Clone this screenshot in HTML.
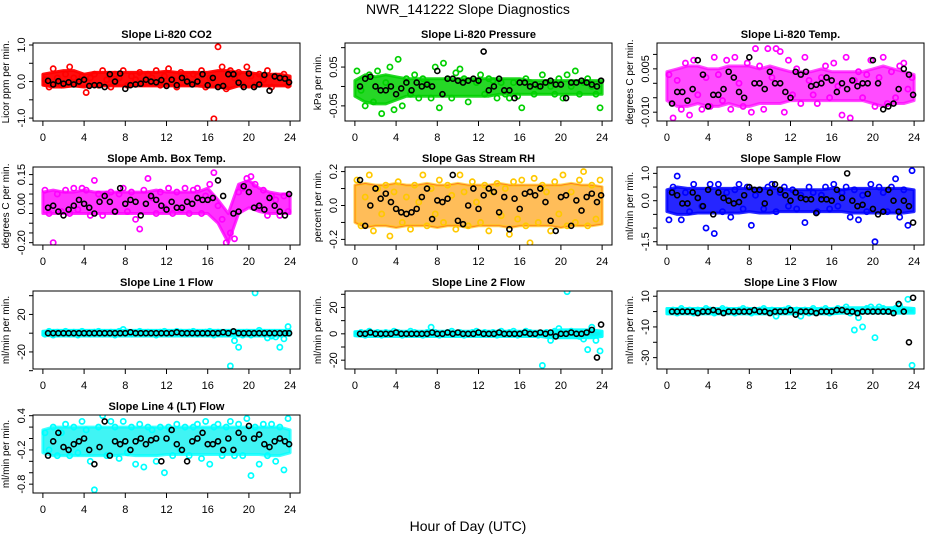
<!DOCTYPE html>
<html><head><meta charset="utf-8"><style>
html,body{margin:0;padding:0;background:#fff;}
svg{display:block;font-family:"Liberation Sans",sans-serif;}
</style></head><body>
<svg id="chart" width="936" height="540" viewBox="0 0 936 540" xmlns="http://www.w3.org/2000/svg">
<text x="468" y="14" text-anchor="middle" font-size="14">NWR_141222  Slope Diagnostics</text>
<text x="468" y="531" text-anchor="middle" font-size="14">Hour of Day (UTC)</text>
</svg>
<script>
const xTicks=[0,4,8,12,16,20,24];
const bandHours=[0,1,2,3,4,5,6,7,8,9,10,11,12,13,14,15,16,17,18,19,20,21,22,23,24];
const scatTimes=[0.2,0.6,1.0,1.4,1.8,2.2,2.6,3.0,3.4,3.8,4.2,4.6,5.0,5.4,5.8,6.2,6.6,7.0,7.4,7.8,8.2,8.6,9.0,9.4,9.8,10.2,10.6,11.0,11.4,11.8,12.2,12.6,13.0,13.4,13.8,14.2,14.6,15.0,15.4,15.8,16.2,16.6,17.0,17.4,17.8,18.2,18.6,19.0,19.4,19.8,20.2,20.6,21.0,21.4,21.8,22.2,22.6,23.0,23.4,23.8];
const blackTimes=[0.5,1,1.5,2,2.5,3,3.5,4,4.5,5,5.5,6,6.5,7,7.5,8,8.5,9,9.5,10,10.5,11,11.5,12,12.5,13,13.5,14,14.5,15,15.5,16,16.5,17,17.5,18,18.5,19,19.5,20,20.5,21,21.5,22,22.5,23,23.5,23.9];

const titles=["Slope Li-820 CO2","Slope Li-820 Pressure","Slope Li-820 Temp.","Slope Amb. Box Temp.","Slope Gas Stream RH","Slope Sample Flow","Slope Line 1 Flow","Slope Line 2 Flow","Slope Line 3 Flow","Slope Line 4 (LT) Flow"];
const yTitles=["Licor ppm per min.","kPa per min.","degrees C per min.","degrees C per min.","percent per min.","ml/min per min.","ml/min per min.","ml/min per min.","ml/min per min.","ml/min per min."];
const yDomains=[[-1.08,1.055],[-0.089,0.112],[-0.01305,0.01395],[-0.212,0.189],[-0.233,0.227],[-1.62,1.233],[-38.2,45],[-26.7,32.5],[-37.4,13.4],[-0.955,0.412]];
const yTickVals=[[-1,-0.5,0,0.5,1],[-0.05,0,0.05,0.1],[-0.01,-0.005,0,0.005,0.01],[-0.2,-0.15,-0.1,-0.05,0,0.05,0.1,0.15],[-0.2,-0.1,0,0.1,0.2],[-1.5,-1,-0.5,0,0.5,1],[-40,-20,0,20,40],[-20,-10,0,10,20,30],[-30,-20,-10,0,10],[-0.8,-0.6,-0.4,-0.2,0,0.2,0.4]];
const yTickLabels=[{"-1":"-1.0","0":"0.0","1":"1.0"},{"-0.05":"-0.05","0.05":"0.05"},{"-0.01":"-0.010","0.005":"0.005"},{"-0.2":"-0.20","0":"0.00","0.15":"0.15"},{"-0.2":"-0.2","0":"0.0","0.2":"0.2"},{"-1.5":"-1.5","0":"0.0","1":"1.0"},{"-20":"-20","20":"20"},{"-20":"-20","0":"0","20":"20"},{"-30":"-30","-10":"-10","10":"10"},{"-0.8":"-0.8","-0.2":"-0.2","0.4":"0.4"}];

const bandLo=[
[-0.1,-0.15,-0.15,-0.12,-0.15,-0.12,-0.12,-0.12,-0.12,-0.12,-0.12,-0.12,-0.12,-0.12,-0.12,-0.12,-0.15,-0.15,-0.2,-0.12,-0.15,-0.12,-0.12,-0.12,-0.12],
[-0.025,-0.04,-0.045,-0.045,-0.035,-0.025,-0.025,-0.025,-0.025,-0.025,-0.025,-0.025,-0.025,-0.025,-0.02,-0.02,-0.02,-0.02,-0.02,-0.02,-0.02,-0.02,-0.02,-0.02,-0.02],
[-0.006,-0.008,-0.008,-0.007,-0.008,-0.008,-0.007,-0.008,-0.008,-0.007,-0.007,-0.007,-0.006,-0.006,-0.006,-0.006,-0.006,-0.006,-0.006,-0.006,-0.007,-0.008,-0.007,-0.007,-0.006],
[-0.05,-0.05,-0.05,-0.05,-0.05,-0.05,-0.05,-0.05,-0.05,-0.05,-0.05,-0.05,-0.05,-0.05,-0.05,-0.05,-0.05,-0.1,-0.2,-0.05,-0.02,-0.04,-0.05,-0.05,-0.05],
[-0.1,-0.13,-0.12,-0.12,-0.13,-0.12,-0.12,-0.12,-0.13,-0.12,-0.12,-0.13,-0.12,-0.12,-0.12,-0.13,-0.12,-0.12,-0.12,-0.12,-0.13,-0.12,-0.12,-0.12,-0.11],
[-0.4,-0.5,-0.5,-0.45,-0.45,-0.45,-0.45,-0.45,-0.4,-0.45,-0.45,-0.4,-0.4,-0.4,-0.4,-0.4,-0.4,-0.4,-0.45,-0.45,-0.45,-0.45,-0.45,-0.45,-0.4],
[-2,-3,-3,-3,-3,-3,-3,-3,-3,-3,-3,-3,-3,-3,-3,-3,-3,-3,-3,-3,-3,-3,-3,-3,-2],
[-1.5,-2,-2,-2,-2,-2,-2,-2,-2,-2,-2,-2,-2,-2,-2,-2,-2,-2,-2,-3,-3,-3,-3,-3,-2],
[-1.5,-1.5,-1.5,-1.5,-1.5,-1.5,-1.5,-1.5,-1.5,-1.5,-1.5,-1.5,-1.5,-1.5,-1.5,-1.5,-1.5,-1,-1,-1,-1,-1,-1,-1,-1],
[-0.25,-0.3,-0.3,-0.3,-0.3,-0.3,-0.3,-0.3,-0.28,-0.3,-0.3,-0.3,-0.28,-0.28,-0.28,-0.28,-0.28,-0.28,-0.28,-0.28,-0.28,-0.28,-0.3,-0.3,-0.25]];
const bandHi=[
[0.2,0.25,0.3,0.3,0.2,0.25,0.25,0.25,0.25,0.25,0.25,0.25,0.28,0.25,0.25,0.25,0.25,0.3,0.3,0.25,0.25,0.2,0.2,0.2,0.15],
[0.015,0.03,0.025,0.03,0.025,0.02,0.02,0.02,0.02,0.02,0.02,0.02,0.02,0.02,0.02,0.02,0.02,0.015,0.015,0.015,0.015,0.015,0.015,0.015,0.015],
[0.004,0.005,0.006,0.006,0.005,0.005,0.006,0.006,0.006,0.005,0.006,0.005,0.004,0.004,0.004,0.005,0.004,0.004,0.004,0.004,0.005,0.006,0.005,0.004,0.003],
[0.06,0.07,0.06,0.06,0.07,0.06,0.06,0.06,0.06,0.06,0.06,0.07,0.06,0.06,0.06,0.06,0.08,0.02,-0.05,0.1,0.12,0.08,0.06,0.05,0.05],
[0.12,0.13,0.12,0.12,0.13,0.12,0.12,0.13,0.12,0.12,0.13,0.12,0.12,0.12,0.13,0.12,0.12,0.12,0.12,0.12,0.12,0.13,0.12,0.12,0.11],
[0.4,0.5,0.45,0.45,0.45,0.45,0.45,0.45,0.45,0.45,0.45,0.45,0.4,0.4,0.4,0.4,0.45,0.4,0.45,0.45,0.45,0.45,0.45,0.45,0.4],
[2,3,3,3,3,3,3,3,3,3,3,3,3,3,3,3,3,3,3,3,3,3,3,3,3],
[1.5,2,2,2,2,2,2,2,2,2,2,2,2,2,2,2,2,2,2,2,3,3,3,3,2],
[2,2,2,2,2,2,2,2,2,2,2,2,2,2,2,2,2,2.5,2.5,2.5,2.5,2.5,2.5,2.5,2],
[0.15,0.2,0.2,0.2,0.2,0.2,0.2,0.2,0.2,0.2,0.2,0.2,0.2,0.2,0.2,0.2,0.2,0.2,0.2,0.2,0.2,0.2,0.2,0.2,0.15]];
const scatVals=[
[0.05,-0.15,0.35,0.1,-0.1,0.2,0.4,0.1,-0.05,0.15,-0.3,0.1,0.2,-0.1,0.3,0.05,-0.15,0.2,0.1,0.3,-0.1,0.15,0.05,0.25,-0.05,0.2,0.1,0.3,-0.1,0.15,0.35,0.05,-0.15,0.25,0.1,-0.05,0.2,0.15,0.3,-0.15,0.1,-1.02,0.95,0.4,-0.2,0.3,0.1,0.25,-0.1,0.4,0.15,-0.1,0.2,0.05,0.3,-0.15,0.15,0.1,0.2,-0.1],
[0.04,-0.01,-0.05,0.03,-0.04,0.04,-0.07,0.01,0.05,-0.06,0.07,-0.05,0.02,-0.02,0.03,-0.03,0.02,0.01,-0.03,0.05,-0.055,0.06,0.02,-0.03,0.035,0.045,0.02,-0.04,-0.1,0.01,0.03,-0.02,0.02,0.015,-0.03,0.01,-0.02,-0.03,0.01,-0.025,-0.055,0.02,0.01,-0.02,0.0,0.03,0.01,0.0,-0.02,0.02,-0.03,0.03,0.0,0.04,-0.02,0.01,0.02,0.0,-0.02,-0.055],
[0.003,-0.012,0.001,-0.009,0.007,-0.011,0.008,-0.004,-0.009,0.002,-0.008,0.009,0.003,-0.006,0.008,-0.009,0.009,0.0,-0.008,0.007,-0.01,0.012,0.006,-0.009,0.012,0.002,0.012,0.011,-0.01,0.008,-0.004,0.005,-0.007,0.009,0.001,-0.004,-0.007,0.002,0.006,-0.005,0.007,-0.001,-0.011,0.009,-0.012,0.001,0.004,-0.005,0.003,0.008,-0.008,0.002,0.009,-0.007,0.004,-0.005,0.006,0.007,-0.002,0.002],
[0.07,-0.05,-0.2,0.05,-0.04,0.07,-0.05,0.08,-0.03,0.08,0.07,-0.06,0.12,0.05,-0.06,0.05,0.06,-0.04,0.05,0.08,-0.04,0.06,-0.08,-0.13,0.07,0.13,0.03,-0.05,0.06,-0.02,0.08,-0.05,0.06,-0.03,0.08,-0.05,0.07,0.08,-0.05,0.04,0.1,0.16,-0.01,-0.08,-0.2,-0.15,-0.18,0.06,0.08,0.13,0.14,0.1,-0.02,0.07,-0.06,0.04,0.02,-0.06,0.04,-0.04],
[0.15,-0.12,0.05,0.18,-0.15,0.1,-0.05,0.12,-0.18,0.08,0.14,-0.1,0.05,-0.14,0.12,0.02,0.18,-0.12,0.1,-0.05,0.15,-0.1,0.12,0.06,-0.14,0.18,0.08,-0.12,0.14,0.02,-0.1,0.12,-0.15,0.08,0.13,-0.06,0.1,-0.17,0.14,-0.08,0.15,-0.12,-0.22,0.16,-0.1,0.12,0.08,-0.15,0.14,-0.05,0.18,-0.12,0.08,-0.1,0.15,0.2,-0.12,0.12,-0.08,0.15],
[-0.7,0.5,0.9,-0.7,0.3,-0.4,0.6,0.1,-0.2,-1.0,0.6,-1.2,0.6,-0.4,0.3,-0.6,0.4,0.6,-0.3,0.5,-0.9,0.2,0.4,-0.3,0.5,0.6,-0.4,0.3,0.5,-0.2,0.4,-0.3,0.2,-0.8,0.5,0.3,-0.4,0.2,0.5,-0.3,0.6,-0.2,0.3,0.5,-0.6,0.4,-0.7,0.2,-0.4,0.6,-1.5,0.5,0.3,-0.4,0.5,0.8,-0.6,0.4,-0.9,1.1],
[-1,2,-2,1,0,2,-1,1,-2,2,0,-1,1,2,-1,0,1,-2,2,4,1,-1,0,2,-1,1,0,-2,1,2,-1,0,2,1,-1,1,2,-1,0,1,2,-2,1,-1,0,-35,-8,-15,-2,1,-2,43,3,0,-5,-3,-4,-15,-6,7],
[0,1,-1,2,0,1,-1,1,0,2,1,-1,0,2,1,0,-1,1,5,1,-1,0,1,2,0,1,-1,0,1,2,0,1,0,1,-1,2,0,1,2,-1,0,2,1,0,-1,-24,1,-5,2,4,0,32,2,0,-2,-4,-12,5,-5,-13],
[0,1,-1,2,0,1,-1,1,0,2,1,-1,0,2,1,0,-1,1,2,1,-1,0,1,2,0,1,-3,0,1,2,0,1,-3,1,-1,2,0,1,2,-1,0,2,1,3,-1,-12,-4,-10,2,3,-17,3,2,0,1,2,4,1,8,-35],
[0.1,-0.2,0.2,-0.3,0.1,0.25,-0.3,0.2,-0.25,0.3,0.15,-0.4,-0.9,0.2,0.4,-0.3,0.3,0.2,-0.35,0.3,-0.25,0.2,-0.45,0.25,-0.5,0.2,0.15,-0.4,0.2,-0.6,0.2,-0.3,0.25,-0.2,0.2,-0.3,0.2,0.25,-0.35,0.3,-0.45,0.2,0.25,-0.3,0.2,0.3,-0.3,0.25,-0.3,0.35,-0.65,0.2,-0.45,0.25,-0.3,0.25,-0.4,0.2,-0.55,0.35]];
const blackVals=[
[0.02,-0.08,0.01,-0.06,-0.02,-0.08,0.0,0.05,-0.12,-0.1,-0.1,-0.15,0.2,0.0,0.22,-0.2,-0.1,-0.08,-0.06,0.05,0.0,-0.02,0.04,-0.12,0.05,-0.1,0.1,0.0,-0.08,0.0,0.2,-0.1,0.1,-0.15,-0.12,0.2,0.2,-0.03,-0.15,0.22,-0.15,-0.08,0.18,-0.25,0.14,0.1,0.08,-0.02],
[0.0,0.02,0.025,0.0,-0.01,-0.01,0.0,-0.02,-0.005,0.01,-0.01,0.01,0.0,0.005,0.0,0.04,-0.02,0.02,0.02,0.015,0.01,0.015,0.02,0.015,0.09,-0.01,0.0,0.02,-0.01,-0.01,-0.03,0.01,0.01,0.0,0.005,0.0,0.01,0.015,0.005,0.005,-0.03,0.01,0.01,0.015,0.01,0.005,0.0,0.015],
[-0.007,-0.003,-0.003,-0.006,-0.002,0.008,0.003,-0.008,-0.004,-0.004,-0.002,0.004,0.002,-0.003,-0.005,0.009,0.0,0.0,-0.002,0.004,0.0,0.0,-0.003,-0.005,0.004,0.003,0.004,-0.001,-0.0005,0.0,0.002,0.001,-0.003,0.0,-0.002,0.001,-0.001,0.0,0.0,0.008,0.0,-0.009,-0.008,-0.007,-0.002,0.005,0.003,-0.004],
[-0.02,-0.01,-0.04,-0.06,-0.03,-0.01,0.02,0.0,-0.02,-0.05,0.01,0.04,0.01,-0.04,0.08,0.0,0.02,0.01,-0.06,0.0,0.04,0.02,-0.01,-0.03,0.01,-0.02,-0.02,0.01,0.0,0.03,0.02,0.02,0.03,0.12,0.04,-0.25,-0.05,-0.04,0.09,0.06,-0.02,-0.01,-0.03,0.03,-0.01,-0.04,-0.06,0.05],
[0.15,-0.12,0.0,0.1,0.04,0.07,0.02,-0.02,-0.04,-0.05,-0.04,-0.02,0.05,0.1,-0.08,0.03,0.02,0.04,0.18,-0.09,-0.11,0.0,0.1,-0.02,0.06,0.1,0.08,-0.04,0.05,-0.14,0.04,-0.02,0.07,0.08,0.06,0.1,0.02,-0.09,-0.15,0.05,0.06,-0.12,0.03,-0.03,0.05,0.07,0.02,0.06],
[0.3,0.2,-0.1,-0.1,0.3,0.1,-0.2,0.4,-0.5,0.3,0.1,0.0,-0.1,-0.05,0.2,0.5,0.4,0.4,-0.1,0.3,0.6,0.4,0.2,0.0,0.3,0.1,0.05,0.05,-0.45,0.05,0.05,0.0,0.4,0.1,1.0,0.0,-0.2,-0.15,0.25,-0.3,-0.5,-0.4,0.4,0.0,-0.4,0.0,-0.2,-0.8],
[0,0,0,0,0,0,0,0,0,0,0,0,0,0,0,0,1,0,0,0,0,0,0,0,0,1,0,0,0,0,0,0,0,0,1,0,2,0,0,0,0,0,0,0,0,0,0,0],
[0,0,1,0,0,0,0,1,0,0,0,0,0,0,1,0,0,1,0,1,0,0,0,1,0,0,0,1,0,0,0,0,1,0,0,1,0,1,-2,0,0,1,0,0,1,3,-18,7],
[0,0,0,0,0,-1,0,0,1,0,-1,0,0,0,0,0,1,0,0,-1,0,0,0,1,-2,0,0,0,-1,0,0,0,1,1,0,0,-1,0,0,0,0,0,0,-1,5,0,-20,9],
[-0.3,-0.05,0.1,-0.15,-0.2,-0.1,-0.05,0.0,-0.2,-0.45,-0.15,0.3,-0.3,-0.05,-0.1,-0.05,-0.2,-0.05,0.0,-0.1,-0.03,0.0,-0.4,0.0,0.15,-0.1,-0.2,-0.4,-0.05,0.0,0.1,-0.1,-0.1,-0.05,-0.2,0.0,-0.2,0.1,0.0,0.22,0.0,0.07,-0.1,-0.15,-0.05,0.0,-0.05,-0.1]];

const colors=["#ff0000","#00d000","#ff00ff","#ff00ff","#ff9a00","#0000ff","#00f0f0","#00f0f0","#00f0f0","#00f0f0"];
const scatColors=["#ff0000","#00d000","#ff00ff","#ff00ff","#ffc800","#0000ff","#00ffff","#00ffff","#00ffff","#00ffff"];
const bandOpacity=[0.95,0.85,0.7,0.8,0.65,0.85,0.95,0.95,0.95,0.75];

const NS="http://www.w3.org/2000/svg";
const svg=document.getElementById('chart');
function mk(tag,attrs,parent){const e=document.createElementNS(NS,tag);for(const k in attrs)e.setAttribute(k,attrs[k]);(parent||svg).appendChild(e);return e;}
const colLeft=[33,345,657], boxW=267, rowTop=[43,167,291,415], boxH=78;

for(let p=0;p<10;p++){
  const L=colLeft[p%3], T=rowTop[Math.floor(p/3)], R=L+boxW, B=T+boxH;
  const g=mk('g',{});
  
  
  const [y0,y1]=yDomains[p];
  const xs=v=>L+boxW*(v+0.96)/25.92;
  const ys=v=>B-boxH*(v-y0)/(y1-y0);
  const clip=mk('clipPath',{id:'c'+p},g);mk('rect',{x:L,y:T,width:boxW,height:boxH},clip);
  const t=mk('text',{x:(L+R)/2,y:T-5,'text-anchor':'middle','font-size':11,'font-weight':'bold'},g);t.textContent=titles[p];
  
  
  const yl=mk('text',{x:0,y:0,transform:`translate(${L-24},${(T+B)/2}) rotate(-90)`,'text-anchor':'middle','font-size':10},g);yl.textContent=yTitles[p];
  
  
  const data=mk('g',{'clip-path':`url(#c${p})`},g);
  let d='';
  bandHours.forEach((h,i)=>{d+=(i?'L':'M')+xs(h).toFixed(1)+','+ys(bandHi[p][i]).toFixed(1);});
  for(let i=bandHours.length-1;i>=0;i--)d+='L'+xs(bandHours[i]).toFixed(1)+','+ys(bandLo[p][i]).toFixed(1);
  const band=mk('path',{d:d+'Z',fill:colors[p],'fill-opacity':bandOpacity[p],stroke:scatColors[p],'stroke-width':3,'stroke-opacity':bandOpacity[p],'stroke-linejoin':'round'},data);
  
  
  if(p===4){
    const band2=mk('path',{d:d+'Z',fill:'none',stroke:'#ff3000','stroke-width':1,'stroke-opacity':0.5},data);
    
    
  }
  scatTimes.forEach((tm,i)=>{
    const c=mk('circle',{cx:xs(tm),cy:ys(scatVals[p][i]),r:2.6,fill:'none',stroke:scatColors[p],'stroke-width':1.7},data);
    
    
  });
  blackTimes.forEach((tm,i)=>{
    const c=mk('circle',{cx:xs(tm),cy:ys(blackVals[p][i]),r:2.5,fill:'none',stroke:'#000','stroke-width':1.6},data);
    
    
  });
  const box=mk('rect',{x:L,y:T,width:boxW,height:boxH,fill:'none',stroke:'#000','stroke-width':1},g);
  
  
  xTicks.forEach(v=>{
    mk('line',{x1:xs(v),x2:xs(v),y1:B,y2:B+5,stroke:'#000'},g);
    const tx=mk('text',{x:xs(v),y:B+20,'text-anchor':'middle','font-size':11},g);tx.textContent=v;
    
    
  });
  yTickVals[p].forEach(v=>{
    mk('line',{x1:L-4,x2:L,y1:ys(v),y2:ys(v),stroke:'#000'},g);
    const lab=yTickLabels[p][String(v)];
    if(lab!==undefined){
      const ty=mk('text',{x:0,y:0,transform:`translate(${L-8},${ys(v)}) rotate(-90)`,'text-anchor':'middle','font-size':11},g);ty.textContent=lab;
      
      
    }
  });
}
</script>
</body></html>
